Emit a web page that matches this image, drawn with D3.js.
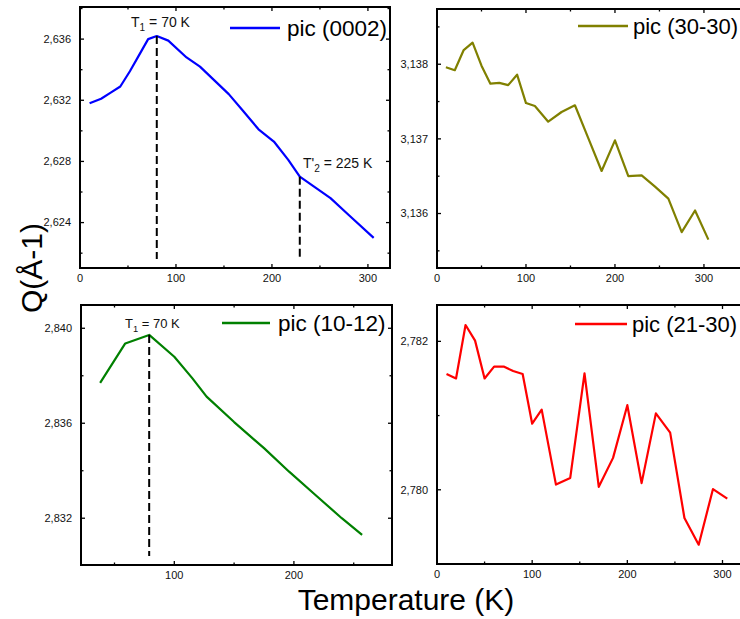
<!DOCTYPE html>
<html>
<head>
<meta charset="utf-8">
<script src="https://cdn.jsdelivr.net/npm/d3@7"></script>
<style>
html,body{margin:0;padding:0;background:#fff;overflow:hidden;}
svg{display:block;font-family:Arial,"Liberation Sans",sans-serif;}
</style>
</head>
<body>
<svg id="chart" width="740" height="619"></svg>
<script>
// ---- data ----
const blueT = [10, 22, 32, 42, 52, 62, 71, 80, 92, 111, 125, 140, 155, 170, 186, 202, 217, 229, 245, 261, 280, 306];
const blueQ = [2.6318, 2.6321, 2.6325, 2.6329, 2.6339, 2.6350, 2.6360, 2.6362, 2.6359, 2.6348, 2.6342, 2.6333, 2.6324, 2.6313, 2.6301, 2.6293, 2.6281, 2.6270, 2.6263, 2.6256, 2.6245, 2.6230];

const oliveT = [10, 20, 30, 40, 50, 60, 70, 80, 90, 100, 110, 125, 140, 155, 170, 185, 200, 215, 230, 245, 260, 275, 290, 305];
const oliveQ = [3.13796, 3.13792, 3.13819, 3.13829, 3.13798, 3.13774, 3.13775, 3.13772, 3.13786, 3.13748, 3.13744, 3.13723, 3.13736, 3.13745, 3.13701, 3.13657, 3.13698, 3.13650, 3.13651, 3.13636, 3.13620, 3.13575, 3.13604, 3.13565];

const greenT = [38, 59, 79, 100, 115, 127, 150, 175, 196, 218, 240, 257];
const greenQ = [2.83770, 2.83936, 2.83972, 2.83880, 2.83790, 2.83712, 2.83605, 2.83495, 2.83396, 2.83298, 2.83200, 2.83130];

const redT = [10, 20, 30, 40, 50, 60, 70, 80, 90, 100, 110, 125, 140, 155, 170, 185, 200, 215, 230, 245, 260, 275, 290, 305];
const redQ = [2.78156, 2.78150, 2.78222, 2.78201, 2.78150, 2.78166, 2.78166, 2.78160, 2.78156, 2.78089, 2.78108, 2.78007, 2.78016, 2.78157, 2.78004, 2.78043, 2.78114, 2.78009, 2.78103, 2.78077, 2.77962, 2.77926, 2.78001, 2.77988];

const legendLabels = ["pic (0002)", "pic (30-30)", "pic (10-12)", "pic (21-30)"];
const xMajor = [[0, 100, 200, 300], [0, 100, 200, 300], [100, 200], [0, 100, 200, 300]];
const xMinor = [[50, 150, 250], [50, 150, 250], [50, 150, 250], [50, 150, 250]];
const yMajor = [[2.624, 2.628, 2.632, 2.636], [3.136, 3.137, 3.138], [2.832, 2.836, 2.840], [2.780, 2.782]];
const yMinor = [[2.622, 2.626, 2.630, 2.634, 2.638], [3.1355, 3.1365, 3.1375, 3.1385], [2.834, 2.838], [2.781]];
// transition markers
const markerT = [80, 229, 79];
const markerQ = [2.6362, 2.6270, 2.83972];
const markerPanel = [0, 0, 2];

// ---- layout ----
const panels = [
  {T: blueT, Q: blueQ, color: "#0000ff", left: 80, right: 390, top: 7, bottom: 268, xd: [0, 323], yd: [2.62103, 2.6381], leg: [230, 280, 28, 287, 22.5]},
  {T: oliveT, Q: oliveQ, color: "#808000", left: 437, right: 752, top: 9, bottom: 268, xd: [0, 354], yd: [3.13527, 3.13874], leg: [578, 628, 26, 633, 22]},
  {T: greenT, Q: greenQ, color: "#008000", left: 81, right: 392, top: 305, bottom: 565, xd: [22, 282], yd: [2.83003, 2.84098], leg: [222, 270, 323, 278, 22.5]},
  {T: redT, Q: redQ, color: "#ff0000", left: 437, right: 752, top: 305, bottom: 564, xd: [0, 331], yd: [2.77900, 2.78249], leg: [575, 627, 324, 632, 22]}
];

const svg = d3.select("#chart");
const comma = v => d3.format(".3f")(v).replace(".", ",");

panels.forEach((p, i) => {
  const x = d3.scaleLinear().domain(p.xd).range([p.left, p.right]);
  const y = d3.scaleLinear().domain(p.yd).range([p.bottom, p.top]);
  p.x = x; p.y = y;
  const g = svg.append("g");

  g.append("path")
    .datum(p.T.map((t, k) => [t, p.Q[k]]))
    .attr("fill", "none")
    .attr("stroke", p.color)
    .attr("stroke-width", 2.2)
    .attr("stroke-linejoin", "round")
    .attr("d", d3.line().x(d => x(d[0])).y(d => y(d[1])));

  const tk = g.append("g").attr("stroke", "#000").attr("stroke-width", 1.3);
  const addX = (vals, len) => vals.forEach(v => {
    tk.append("line").attr("x1", x(v)).attr("x2", x(v)).attr("y1", p.bottom).attr("y2", p.bottom - len);
    tk.append("line").attr("x1", x(v)).attr("x2", x(v)).attr("y1", p.top).attr("y2", p.top + len);
  });
  const addY = (vals, len) => vals.forEach(v => {
    tk.append("line").attr("y1", y(v)).attr("y2", y(v)).attr("x1", p.left).attr("x2", p.left + len);
    tk.append("line").attr("y1", y(v)).attr("y2", y(v)).attr("x1", p.right).attr("x2", p.right - len);
  });
  addX(xMajor[i], 4); addX(xMinor[i], 2.5);
  addY(yMajor[i], 4); addY(yMinor[i], 2.5);

  xMajor[i].forEach(v => {
    g.append("text").attr("x", x(v)).attr("y", p.bottom + 14)
      .attr("text-anchor", "middle").attr("font-size", 11).attr("fill", "#111").text(v);
  });
  yMajor[i].forEach(v => {
    g.append("text").attr("x", p.left - 9).attr("y", y(v)).attr("dy", "0.35em")
      .attr("text-anchor", "end").attr("font-size", 11).attr("fill", "#111").text(comma(v));
  });

  g.append("rect").attr("x", p.left).attr("y", p.top)
    .attr("width", p.right - p.left).attr("height", p.bottom - p.top)
    .attr("fill", "none").attr("stroke", "#000").attr("stroke-width", 2);

  g.append("line").attr("x1", p.leg[0]).attr("x2", p.leg[1]).attr("y1", p.leg[2]).attr("y2", p.leg[2])
    .attr("stroke", p.color).attr("stroke-width", 2.5);
  g.append("text").attr("x", p.leg[3]).attr("y", p.leg[2] + 8)
    .attr("font-size", p.leg[4]).attr("fill", "#000").text(legendLabels[i]);
});

markerT.forEach((t, k) => {
  const p = panels[markerPanel[k]];
  svg.append("line")
    .attr("x1", p.x(t)).attr("x2", p.x(t))
    .attr("y1", p.y(markerQ[k])).attr("y2", p.bottom - 9)
    .attr("stroke", "#000").attr("stroke-width", 2).attr("stroke-dasharray", "8,4");
});

function tLabel(xp, yp, fs, prime, sub, rest) {
  const t = svg.append("text").attr("x", xp).attr("y", yp).attr("font-size", fs).attr("fill", "#111");
  t.append("tspan").text("T" + prime);
  t.append("tspan").attr("font-size", fs * 0.72).attr("dy", fs * 0.3).text(sub);
  t.append("tspan").attr("dy", -fs * 0.3).text(rest);
}
tLabel(131, 27, 14, "", "1", " = 70 K");
tLabel(303, 168, 14, "'", "2", " = 225 K");
tLabel(125, 328, 13, "", "1", " = 70 K");

svg.append("text").attr("transform", "translate(42,268) rotate(-90)")
  .attr("text-anchor", "middle").attr("font-size", 30).attr("fill", "#000").text("Q(Å-1)");
svg.append("text").attr("x", 406).attr("y", 610)
  .attr("text-anchor", "middle").attr("font-size", 30).attr("fill", "#000").text("Temperature (K)");
</script>
</body>
</html>
